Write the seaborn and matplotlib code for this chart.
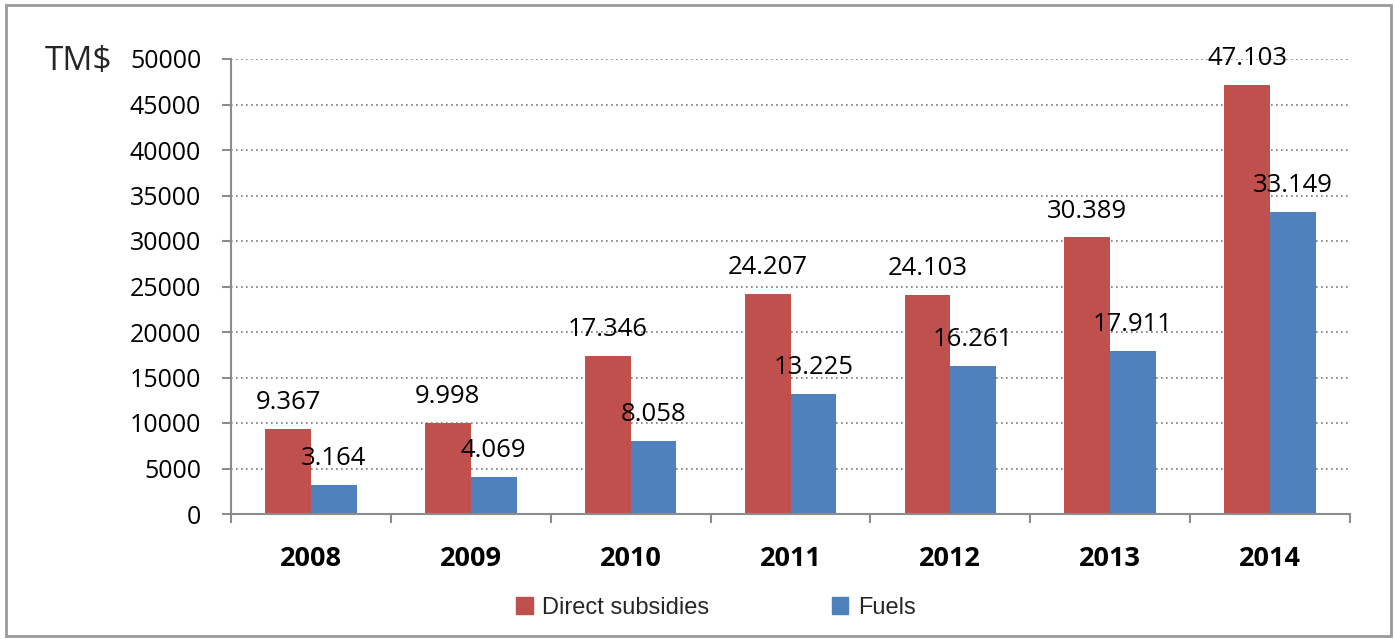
import pandas as pd
import matplotlib.pyplot as plt
import matplotlib.patches as mpatches
import numpy as np
import seaborn as sns

years = ["2008", "2009", "2010", "2011", "2012", "2013", "2014"]
direct_subsidies = [9367, 9998, 17346, 24207, 24103, 30389, 47103]
fuels = [3164, 4069, 8058, 13225, 16261, 17911, 33149]
series_names = ["Direct subsidies", "Fuels"]
colors = ["#C0504D", "#4F81BD"]

df = pd.DataFrame({
    "year": years * 2,
    "value": direct_subsidies + fuels,
    "series": [series_names[0]] * len(years) + [series_names[1]] * len(years),
})

sns.set_theme(style="white")
plt.rcParams["font.family"] = ["Open Sans", "DejaVu Sans"]

fig = plt.figure(figsize=(13.95, 6.39), dpi=100)
ax = fig.add_axes([231 / 1395, 1 - 514 / 639, (1350 - 231) / 1395, (514 - 59) / 639])

sns.barplot(data=df, x="year", y="value", hue="series", palette=colors,
            width=0.572, gap=0, saturation=1, linewidth=0, ax=ax, legend=False)

# value labels with dot as thousands separator
for cont, vals in zip(ax.containers, [direct_subsidies, fuels]):
    labels = [f"{v:,}".replace(",", ".") for v in vals]
    ax.bar_label(cont, labels=labels, padding=10, fontsize=18.5, color="black")

ax.set_xlim(-0.5, 6.5)
ax.set_ylim(0, 50000)
ax.set_yticks(np.arange(0, 50001, 5000))
ax.set_yticklabels([str(v) for v in range(0, 50001, 5000)])
ax.set_xlabel("")
ax.set_ylabel("")

ax.grid(axis="y", color="#7a7a7a", linestyle=(0, (1, 2)), linewidth=1.2)
ax.set_axisbelow(True)
for side in ["top", "right"]:
    ax.spines[side].set_visible(False)
for side in ["left", "bottom"]:
    ax.spines[side].set_color("#8c8c8c")
    ax.spines[side].set_linewidth(1.5)

ax.tick_params(axis="y", left=True, length=6.5, width=1.5, color="#8c8c8c",
               pad=15, labelsize=18, labelcolor="black")
ax.set_xticks(np.arange(-0.5, 7, 1), minor=True)
ax.tick_params(axis="x", which="minor", bottom=True, length=6.5, width=1.5, color="#8c8c8c")
ax.tick_params(axis="x", which="major", bottom=False, length=0, pad=23, labelsize=19.5,
               labelcolor="black")
for lbl in ax.get_xticklabels():
    lbl.set_fontweight("bold")

fig.text(45 / 1395, 1 - 62 / 639, "TM$", fontsize=24, va="center", ha="left")

handles = [mpatches.Patch(color=c, label=n) for c, n in zip(colors, series_names)]
fig.legend(handles=handles, loc="center left", bbox_to_anchor=(516 / 1395, 1 - 608 / 639),
           ncol=2, frameon=False, borderpad=0, borderaxespad=0, handlelength=0.7,
           handleheight=0.7, handletextpad=0.4, columnspacing=5.2,
           prop={"family": "Liberation Sans", "size": 17})

# grey outer frame
fig.patches.append(mpatches.Rectangle((6 / 1395, 3 / 639), 1385 / 1395, 631 / 639,
                                      transform=fig.transFigure, fill=False,
                                      edgecolor="#9a9a9a", linewidth=2))

fig.savefig("out.png", dpi=100)
